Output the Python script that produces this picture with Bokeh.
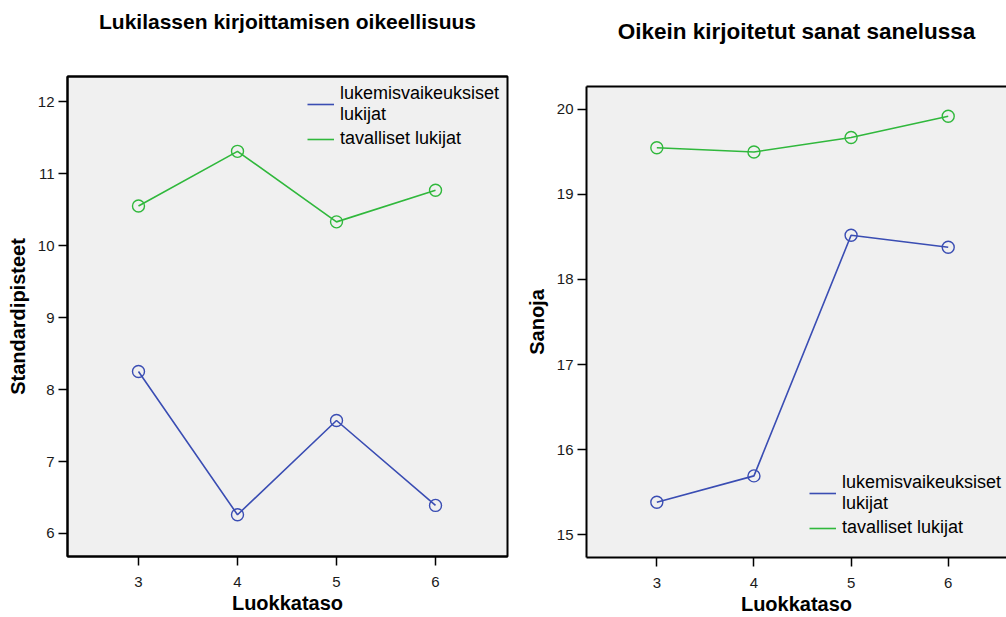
from bokeh.plotting import figure
from bokeh.layouts import row, column
from bokeh.models import Range1d, Legend, LegendItem, LinearAxis, FixedTicker
from bokeh.embed import file_html
from bokeh.resources import INLINE

# Grade levels (Luokkataso)
grades = [3, 4, 5, 6]

# Spelling accuracy, standard scores
spelling_weak = [8.25, 6.26, 7.57, 6.39]
spelling_typical = [10.55, 11.31, 10.33, 10.77]

# Correctly written words in dictation
dictation_weak = [15.38, 15.69, 18.52, 18.38]
dictation_typical = [19.55, 19.50, 19.67, 19.92]

left_y_ticks = [6, 7, 8, 9, 10, 11, 12]
right_y_ticks = [15, 16, 17, 18, 19, 20]
series_labels = ["lukemisvaikeuksiset\nlukijat", "tavalliset lukijat"]

BLUE = "#3a4db3"
GREEN = "#30b83c"
FONT = "Liberation Sans"
FRAME_BG = "#f0f0f0"


def style_axis(axis, ticks=None):
    axis.axis_line_color = "black"
    axis.axis_line_width = 2
    axis.major_tick_line_color = "black"
    axis.major_tick_line_width = 1.5
    axis.major_tick_out = 9
    axis.major_tick_in = 0
    axis.minor_tick_line_color = None
    axis.major_label_text_font = FONT
    axis.major_label_text_font_size = "15px"
    axis.major_label_text_color = "#1a1a1a"
    axis.major_label_standoff = 4
    axis.axis_label_text_font = FONT
    axis.axis_label_text_font_size = "20px"
    axis.axis_label_text_font_style = "bold"
    axis.axis_label_text_color = "black"
    if ticks is not None:
        axis.ticker = FixedTicker(ticks=ticks)


def make_panel(title, title_size, ylabel, weak, typical, x_range, y_range,
               y_ticks, width, borders, title_gap, legend_loc, closed_frame):
    p = figure(
        width=width, height=617,
        x_range=Range1d(*x_range), y_range=Range1d(*y_range),
        output_backend="svg", toolbar_location=None,
        min_border_left=borders[0], min_border_right=borders[1],
        min_border_top=borders[2], min_border_bottom=borders[3],
        background_fill_color=FRAME_BG, border_fill_color="white",
    )
    p.xgrid.visible = False
    p.ygrid.visible = False

    style_axis(p.xaxis[0], grades)
    style_axis(p.yaxis[0], y_ticks)
    p.xaxis.major_label_standoff = 11
    p.xaxis.axis_label_standoff = 2
    p.xaxis.axis_label_text_line_height = 0.8
    p.yaxis.axis_label_standoff = 6
    p.xaxis.axis_label = "Luokkataso"
    p.yaxis.axis_label = ylabel

    # heading: label of a tick-less axis along the top edge
    top = LinearAxis(axis_label=title)
    style_axis(top, [])
    top.major_tick_out = 0
    top.major_label_standoff = 0
    top.axis_label_standoff = title_gap
    top.axis_label_text_font_size = title_size
    p.add_layout(top, "above")

    if closed_frame:
        p.outline_line_color = "black"
        p.outline_line_width = 2
    else:
        # open on the right: only the axis lines frame the plot
        p.outline_line_color = None

    renderers = []
    for values, color in ((weak, BLUE), (typical, GREEN)):
        ln = p.line(grades, values, line_color=color, line_width=1.6)
        p.scatter(grades, values, marker="circle", size=12,
                  line_color=color, line_width=1.4, fill_color=None)
        renderers.append(ln)

    legend = Legend(
        items=[LegendItem(label=lbl, renderers=[r])
               for lbl, r in zip(series_labels, renderers)],
        location=legend_loc,
        label_text_font=FONT, label_text_font_size="18px",
        label_text_color="black", label_text_line_height=0.9,
        glyph_width=27, glyph_height=20, label_standoff=6,
        padding=0, margin=0, spacing=3,
        border_line_color=None, background_fill_alpha=0,
    )
    p.add_layout(legend)
    return p


left = make_panel(
    "Lukilassen kirjoittamisen oikeellisuus", "21px", "Standardipisteet",
    spelling_weak, spelling_typical,
    (2.283, 6.727), (5.68, 12.35), left_y_ticks,
    520, (67, 13, 76, 61), 44, (240, 407), True,
)

right = make_panel(
    "Oikein kirjoitetut sanat sanelussa", "22.5px", "Sanoja",
    dictation_weak, dictation_typical,
    (2.276, 6.60), (14.73, 20.27), right_y_ticks,
    486, (66, 0, 86, 60), 43, (223, 19), False,
)

layout = row(column(left), column(right))
open("out.html", "w").write(file_html(layout, INLINE))
